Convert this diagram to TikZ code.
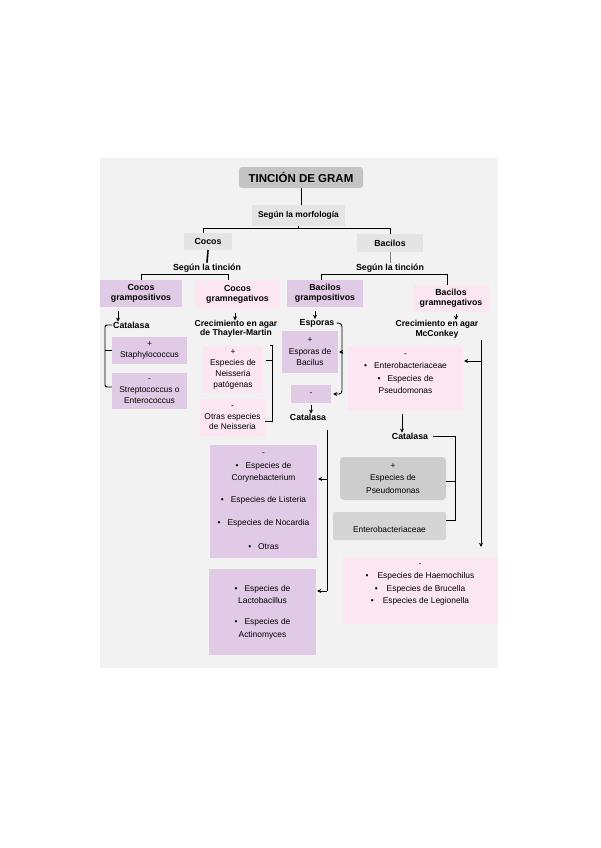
\documentclass[tikz,border=0pt]{standalone}
\usepackage{fontspec}
\setmainfont{Liberation Sans}
\usetikzlibrary{arrows.meta}
\definecolor{bg}{RGB}{242,242,242}
\definecolor{titlegray}{RGB}{196,196,196}
\definecolor{lgray}{RGB}{228,228,228}
\definecolor{mgray}{RGB}{205,205,205}
\definecolor{mtwogray}{RGB}{213,213,213}
\definecolor{mauve}{RGB}{225,202,229}
\definecolor{pinkbox}{RGB}{252,230,242}
\newcommand{\bodyfont}{\fontsize{8.4}{11.5}\selectfont}
\newcommand{\headfont}{\fontsize{8.8}{10}\selectfont\bfseries}
\tikzset{
  box/.style={inner sep=0pt, align=center, font=\bodyfont, text=black},
  mbox/.style={box, fill=mauve},
  pbox/.style={box, fill=pinkbox},
  gbox/.style={box, fill=lgray},
  lab/.style={inner sep=0pt, align=center, font=\headfont},
  link/.style={line width=0.9pt, black},
  arr/.style={link, -{Stealth[length=4pt,width=4pt]}},
  sz/.style 2 args={minimum width=#1pt, minimum height=#2pt},
}
\begin{document}
\begin{tikzpicture}[x=1pt,y=-1pt]
\useasboundingbox (0,0) rectangle (600,848);
\fill[bg] (100,158) rectangle (498,668);

% top
\node[box, fill=titlegray, rounded corners=3pt, sz={124}{21}, font=\fontsize{11.5}{13}\selectfont\bfseries] (title) at (301,177.5) {TINCIÓN DE GRAM};
\node[gbox, sz={93}{21}, font=\fontsize{8.4}{10}\selectfont\bfseries] (morf) at (298.5,215.5) {Según la morfología};
\node[gbox, sz={48}{17}, font=\headfont] (cocos) at (208,241.5) {Cocos};
\node[gbox, sz={66}{18}, font=\headfont] (bacilos) at (390,243) {Bacilos};
\draw[link] (title.south) -- (title.south |- morf.north);
\draw[link] ([xshift=-5pt]cocos.north) |- ([yshift=-2pt]morf.south) -| (bacilos.north);
\draw[link] (morf.south) -- ([yshift=-2pt]morf.south);

\node[lab] (tin1) at (207,268) {Según la tinción};
\node[lab] (tin2) at (390,268) {Según la tinción};
\draw[link, line width=1.6pt] (cocos.south) -- ([yshift=1pt]tin1.north);
\draw[gray, line width=0.6pt] (bacilos.south) -- ([yshift=1pt]tin2.north);

% second level
\node[mbox, sz={82}{27}, font=\headfont] (cgp) at (141,293.5) {Cocos\\grampositivos};
\node[pbox, sz={85}{28}, font=\headfont] (cgn) at (237.5,294) {Cocos\\gramnegativos};
\node[mbox, sz={76}{27}, font=\headfont] (bgp) at (325,293.5) {Bacilos\\grampositivos};
\node[pbox, sz={76}{27}, font=\headfont] (bgn) at (451,298.5) {Bacilos\\gramnegativos};
\coordinate (hl) at (0,274);
\draw[link] (cgp.north) |- ([xshift=-9.5pt]cgn.north |- hl) -- ([xshift=-9.5pt]cgn.north);
\draw[link] ([xshift=-4pt]bgp.north) |- ([xshift=-4pt]bgn.north |- hl) -- ([xshift=-4pt]bgn.north);

% cocos grampositivos
\node[lab, anchor=west] (cat1) at (113,325) {Catalasa};
\draw[arr, shorten <=4pt] ([xshift=-23pt]cgp.south) -- ([xshift=5pt]cat1.north west);
\node[mbox, sz={75}{27}] (staph) at (149.5,350.5) {+\\Staphylococcus};
\node[mbox, sz={75}{36}, font=\fontsize{8.4}{11}\selectfont] (strep) at (149.5,391) {-\\Streptococcus o\\Enterococcus};
\coordinate (lb) at (105,0);
\draw[link, rounded corners=2pt] ([xshift=-1pt]cat1.west) -- (cat1.west -| lb) |- ([yshift=4pt]strep.west);
\draw[link] (staph.west -| lb) -- (staph.west);

% cocos gramnegativos
\node[lab, font=\fontsize{8.6}{9}\selectfont\bfseries] (crec1) at (236,329) {Crecimiento en agar\\de Thayler-Martin};
\draw[arr, shorten <=5pt] ([xshift=-2.5pt]cgn.south) -- ([xshift=-1pt]crec1.north);
\node[pbox, sz={60}{47}, font=\fontsize{8.4}{11}\selectfont] (neis1) at (233,369.5) {+\\Especies de\\Neisseria\\patógenas};
\node[pbox, sz={65}{38}, font=\fontsize{8.4}{10.5}\selectfont] (neis2) at (232.5,418) {-\\Otras especies\\de Neisseria};
\coordinate (rb) at (272,0);
\draw[link] ([xshift=-2pt]rb |- neis1.north) -- (rb |- neis1.north) -- ([yshift=-3pt]rb |- neis2.east) -- ([yshift=-3pt]neis2.east);
\draw[link] ([yshift=9pt]rb |- neis1.east) -- ([xshift=3pt,yshift=9pt]neis1.east);

% bacilos grampositivos
\node[lab] (esp) at (317,323) {Esporas};
\draw[arr, shorten <=4pt] ([xshift=-10pt]bgp.south) -- ([xshift=-2pt]esp.north);
\node[mbox, sz={56}{42}] (espbac) at (310,352) {+\\Esporas de\\Bacilus};
\node[mbox, sz={40}{18}] (minus1) at (311,394) {-};
\coordinate (eb) at (342,0);
\draw[link, rounded corners=3pt, -{Stealth[length=4pt,width=4pt]}] ([xshift=2pt]esp.east) -- ([yshift=-0.5pt]esp.east -| eb) -- (eb |- minus1.east) -- ([xshift=2pt]minus1.east);
\draw[arr] (eb |- espbac.east) -- ([xshift=1pt]espbac.east);
\node[lab] (cat2) at (308,417) {Catalasa};
\draw[arr, shorten <=2pt] (minus1.south) -- (minus1.south |- cat2.north);
\node[mbox, sz={107}{113}, font=\fontsize{8.4}{12.5}\selectfont] (coryne) at (263.5,501.5) {-\\•\hspace{7pt}Especies de\\Corynebacterium\\[9.5pt]•\hspace{7pt}Especies de Listeria\\[10.5pt]•\hspace{7pt}Especies de Nocardia\\[11.5pt]•\hspace{7pt}Otras};
\node[mbox, sz={107}{86}, font=\fontsize{8.4}{12.5}\selectfont] (lacto) at (262.5,612) {•\hspace{7pt}Especies de\\Lactobacillus\\[8.5pt]•\hspace{7pt}Especies de\\Actinomyces};
\coordinate (tr) at (327,0);
\coordinate (ca) at (0,479);
\coordinate (cb) at (0,591);
\draw[link] ([yshift=-10pt]tr |- cat2.south) -- (tr |- cb);
\draw[arr] (tr |- ca) -- ([xshift=1pt]coryne.east |- ca);
\draw[arr] (tr |- cb) -- ([xshift=1pt]lacto.east |- cb);

% bacilos gramnegativos
\node[lab, font=\fontsize{8.6}{10}\selectfont\bfseries] (crec2) at (437,329) {Crecimiento en agar\\McConkey};
\draw[arr, shorten <=2pt] ([xshift=5pt]bgn.south) -- ([xshift=19pt]crec2.north);
\node[pbox, sz={115}{65}, font=\fontsize{8.4}{12.3}\selectfont] (entero) at (405.5,378.5) {-\\•\hspace{7pt}Enterobacteriaceae\\•\hspace{7pt}Especies de\\Pseudomonas\\[-2.5pt]\mbox{}};
\coordinate (rr) at (481,0);
\coordinate (ra) at (0,361);
\node[pbox, sz={154}{67}, font=\fontsize{8.4}{12.5}\selectfont] (haemo) at (420,590.5) {-\\•\hspace{9pt}Especies de Haemochilus\\•\hspace{9pt}Especies de Brucella\\•\hspace{9pt}Especies de Legionella\\[1.5pt]\mbox{}};
\draw[arr] ([yshift=-2pt]rr |- crec2.south) -- ([yshift=10pt]rr |- haemo.north);
\draw[arr] (rr |- ra) -- ([xshift=1pt]entero.east |- ra);
\node[lab] (cat3) at (410,436) {Catalasa};
\draw[arr, shorten <=3pt] ([xshift=-3.5pt]entero.south) -- ([xshift=-3.5pt]entero.south |- cat3.north);
\node[box, fill=mgray, rounded corners=4pt, sz={106}{43}, font=\fontsize{8.4}{12.5}\selectfont] (pseudo) at (393,478.5) {+\\Especies de\\Pseudomonas};
\node[box, fill=mtwogray, rounded corners=2pt, sz={113}{28}, font=\fontsize{8.4}{12.5}\selectfont] (entero2) at (389.5,526) {\mbox{}\\Enterobacteriaceae};
\coordinate (cr) at (455,0);
\draw[link] ([xshift=5pt]cat3.east) -- (cat3.east -| cr) -- ([yshift=6pt]cr |- entero2.east) -- ([yshift=6pt]entero2.east);
\draw[link] ([yshift=-2.5pt]cr |- pseudo.east) -- ([yshift=-2.5pt]pseudo.east);
\end{tikzpicture}
\end{document}
